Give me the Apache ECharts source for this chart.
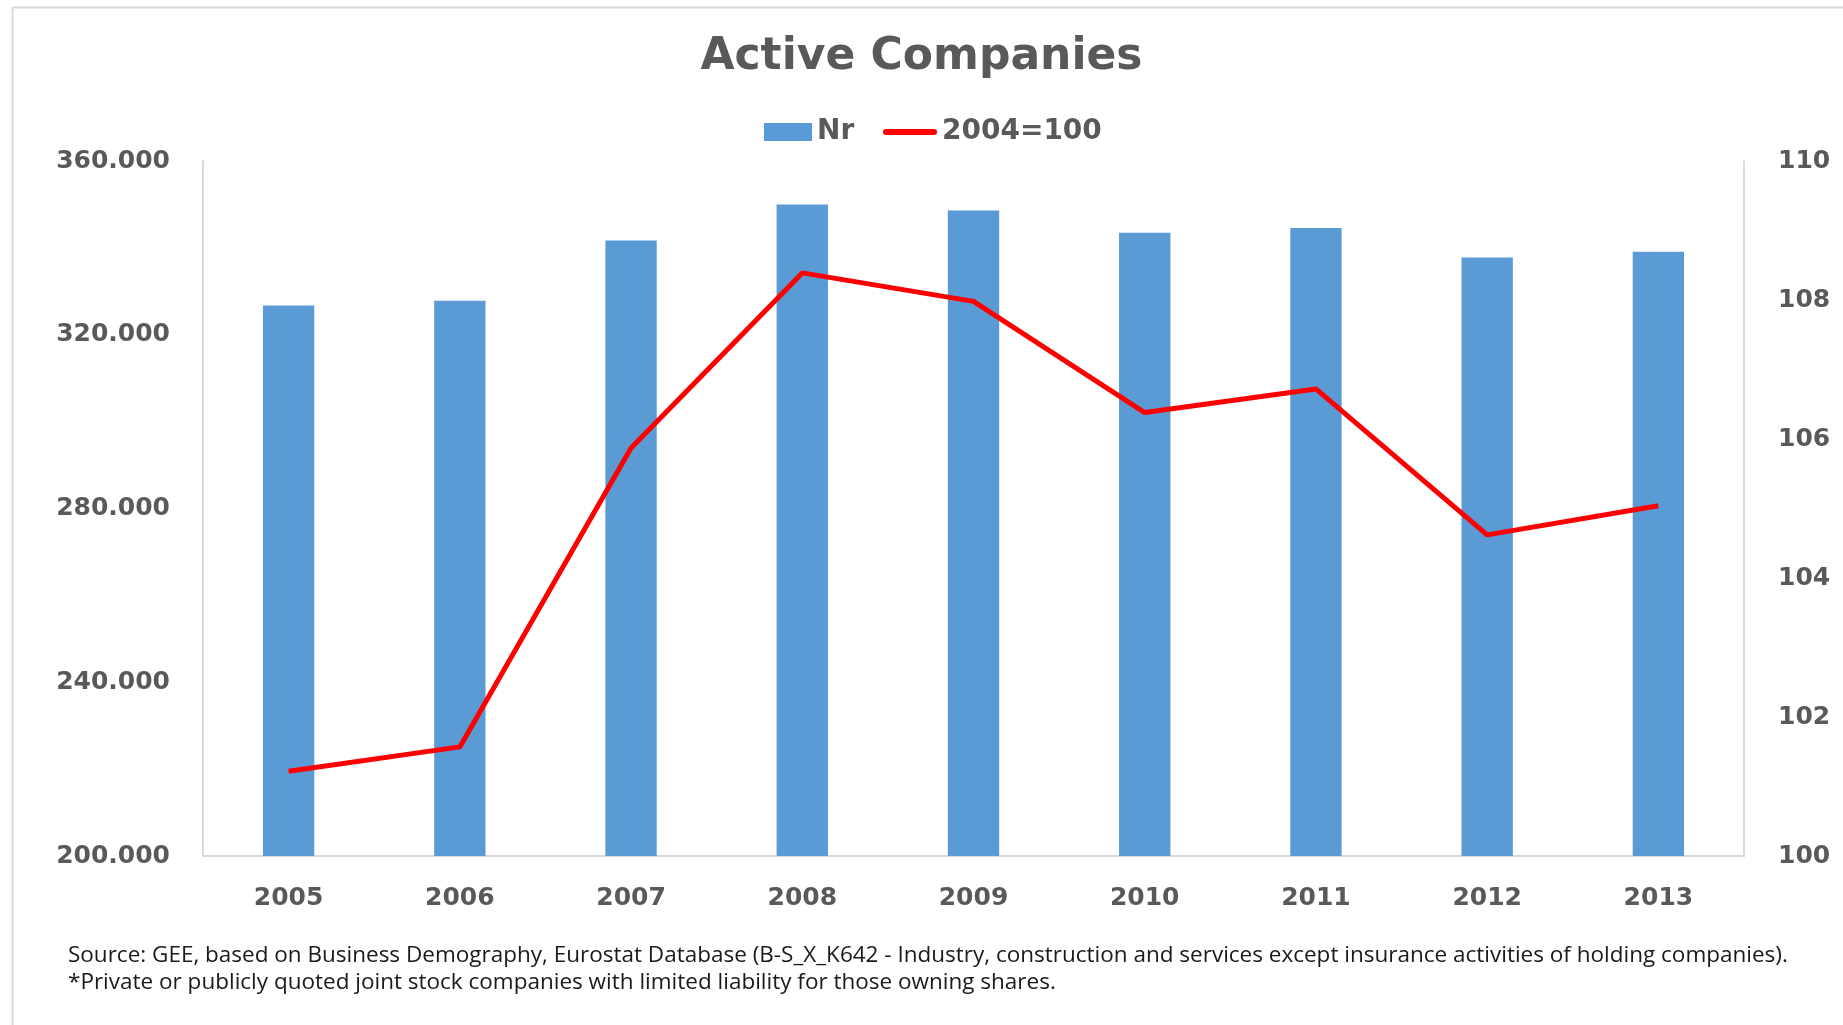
<!DOCTYPE html>
<html>
<head>
<meta charset="utf-8">
<title>Active Companies</title>
<script src="https://cdn.jsdelivr.net/npm/echarts@6/dist/echarts.min.js"></script>
<style>
  html, body { margin: 0; padding: 0; background: #ffffff; }
  #chart { width: 1843px; height: 1025px; }
</style>
</head>
<body>
<div id="chart"></div>
<script>
// Years on the category axis
var years = ['2005', '2006', '2007', '2008', '2009', '2010', '2011', '2012', '2013'];
// Number of active companies (left axis)
var activeCompanies = [326750, 327800, 341700, 350000, 348600, 343500, 344600, 337800, 339100];
// Index, 2004 = 100 (right axis)
var indexValues = [101.22, 101.57, 105.87, 108.39, 107.98, 106.38, 106.72, 104.62, 105.04];
// Footnote lines
var sourceNote = 'Source: GEE, based on Business Demography, Eurostat Database (B-S_X_K642 - Industry, construction and services except insurance activities of holding companies).';
var sharesNote = '*Private or publicly quoted joint stock companies with limited liability for those owning shares.';

var labelFont = 'DejaVu Sans';
var textGrey = '#595959';
var lineGrey = '#d9d9d9';

var chart = echarts.init(document.getElementById('chart'), null, { renderer: 'canvas' });

var legendText = { fontFamily: labelFont, fontWeight: 'bold', fontSize: 28, color: textGrey };
var noteText = { fontFamily: 'Open Sans', fontWeight: 'normal', fontSize: 22.5, color: '#1a1a1a' };

chart.setOption({
  animation: false,
  backgroundColor: '#ffffff',
  title: [
    {
      text: 'Active Companies',
      left: 'center',
      top: 31,
      textStyle: { fontFamily: labelFont, fontWeight: 'bold', fontSize: 44, color: textGrey }
    },
    { text: sourceNote, left: 63, top: 939, textStyle: noteText },
    { text: sharesNote, left: 63, top: 966, textStyle: noteText }
  ],
  graphic: [
    {
      type: 'rect',
      left: 10,
      top: 5,
      shape: { x: 0, y: 0, width: 1900, height: 1100 },
      style: { fill: 'none', stroke: lineGrey, lineWidth: 2 },
      silent: true
    }
  ],
  legend: [
    {
      left: 759,
      top: 113,
      itemWidth: 48,
      itemHeight: 18,
      textStyle: legendText,
      data: [{ name: 'Nr', icon: 'rect' }]
    },
    {
      left: 878,
      top: 113,
      itemWidth: 54,
      itemHeight: 18,
      textStyle: legendText,
      data: [{ name: '2004=100', icon: 'path://M3,0 H51 A3,3 0 0 1 51,6 H3 A3,3 0 0 1 3,0 Z' }]
    }
  ],
  grid: { left: 203, right: 99, top: 161, bottom: 169, containLabel: false },
  xAxis: {
    type: 'category',
    data: years,
    axisLine: { show: true, lineStyle: { color: lineGrey, width: 2 } },
    axisTick: { show: false },
    axisLabel: { fontFamily: labelFont, fontWeight: 'bold', fontSize: 25, color: textGrey, margin: 30 }
  },
  yAxis: [
    {
      type: 'value',
      min: 200000,
      max: 360000,
      interval: 40000,
      axisLine: { show: true, lineStyle: { color: lineGrey, width: 2 } },
      axisTick: { show: false },
      splitLine: { show: false },
      axisLabel: {
        fontFamily: labelFont, fontWeight: 'bold', fontSize: 25, color: textGrey, margin: 33,
        padding: [4, 0, 0, 0],
        formatter: function (v) {
          return String(v).replace(/\B(?=(\d{3})+(?!\d))/g, '.');
        }
      }
    },
    {
      type: 'value',
      min: 100,
      max: 110,
      interval: 2,
      position: 'right',
      axisLine: { show: true, lineStyle: { color: lineGrey, width: 2 } },
      axisTick: { show: false },
      splitLine: { show: false },
      axisLabel: {
        fontFamily: labelFont, fontWeight: 'bold', fontSize: 25, color: textGrey, margin: 34,
        padding: [4, 0, 0, 0]
      }
    }
  ],
  series: [
    {
      name: 'Nr',
      type: 'bar',
      yAxisIndex: 0,
      data: activeCompanies,
      barWidth: '30%',
      itemStyle: { color: '#5b9bd5' }
    },
    {
      name: '2004=100',
      type: 'line',
      yAxisIndex: 1,
      data: indexValues,
      symbol: 'none',
      lineStyle: { color: '#ff0000', width: 5 },
      itemStyle: { color: '#ff0000' }
    }
  ]
});
</script>
</body>
</html>
